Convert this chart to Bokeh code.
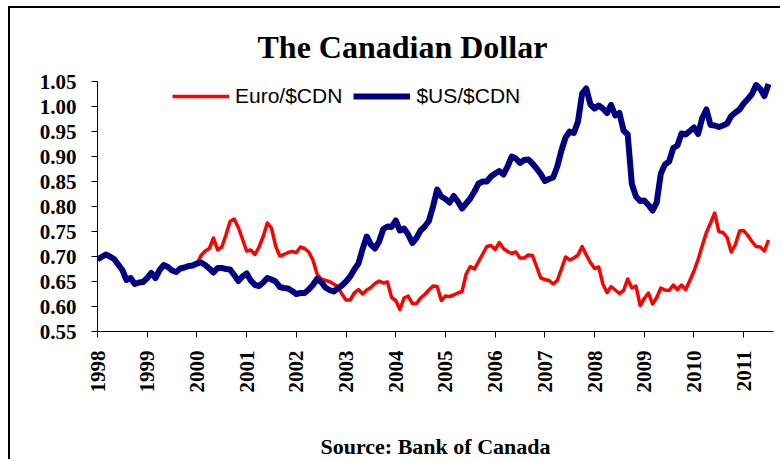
from bokeh.plotting import figure
from bokeh.models import (FixedTicker, Title, Legend, LegendItem, Range1d,
                          PrintfTickFormatter)
from bokeh.embed import file_html
from bokeh.resources import INLINE

# ---- data -------------------------------------------------------------
years = list(range(1998, 2012))
year_labels = [str(y) for y in years]
y_ticks = [0.55, 0.60, 0.65, 0.70, 0.75, 0.80, 0.85, 0.90, 0.95, 1.00, 1.05]

# $US per $CDN, monthly, Jan 1998 - Jul 2011
usd_cad = [
    0.694, 0.699, 0.704, 0.700, 0.695, 0.684, 0.673, 0.653, 0.657, 0.645, 0.648, 0.649,  # 1998
    0.657, 0.667, 0.657, 0.673, 0.683, 0.679, 0.672, 0.669, 0.676, 0.678, 0.681, 0.682,  # 1999
    0.686, 0.688, 0.683, 0.676, 0.668, 0.677, 0.677, 0.675, 0.674, 0.663, 0.651, 0.660,  # 2000
    0.666, 0.652, 0.643, 0.641, 0.648, 0.657, 0.654, 0.650, 0.639, 0.637, 0.636, 0.631,  # 2001
    0.625, 0.627, 0.627, 0.634, 0.643, 0.655, 0.649, 0.638, 0.633, 0.630, 0.636, 0.642,  # 2002
    0.650, 0.660, 0.674, 0.686, 0.715, 0.740, 0.724, 0.716, 0.730, 0.755, 0.760, 0.759,  # 2003
    0.772, 0.752, 0.756, 0.744, 0.727, 0.737, 0.752, 0.760, 0.771, 0.800, 0.834, 0.820,  # 2004
    0.815, 0.808, 0.821, 0.810, 0.796, 0.806, 0.816, 0.830, 0.846, 0.850, 0.850, 0.860,  # 2005
    0.866, 0.871, 0.864, 0.880, 0.900, 0.896, 0.887, 0.893, 0.894, 0.886, 0.876, 0.865,  # 2006
    0.851, 0.855, 0.858, 0.880, 0.912, 0.938, 0.950, 0.947, 0.970, 1.026, 1.036, 1.004,  # 2007
    0.996, 1.002, 0.996, 0.987, 1.003, 0.982, 0.987, 0.952, 0.944, 0.845, 0.820, 0.811,  # 2008
    0.812, 0.803, 0.792, 0.808, 0.866, 0.884, 0.890, 0.917, 0.922, 0.946, 0.944, 0.951,  # 2009
    0.958, 0.945, 0.977, 0.994, 0.963, 0.962, 0.959, 0.962, 0.966, 0.981, 0.988, 0.994,  # 2010
    1.006, 1.015, 1.025, 1.043, 1.035, 1.021, 1.045,                                    # 2011
]

# Euro per $CDN, monthly, Jan 2000 - Jul 2011
eur_cad = [
    0.685, 0.702, 0.711, 0.716, 0.737, 0.713, 0.719, 0.743, 0.770, 0.775, 0.758, 0.735,  # 2000
    0.711, 0.713, 0.704, 0.719, 0.740, 0.767, 0.757, 0.721, 0.701, 0.704, 0.708, 0.710,  # 2001
    0.708, 0.719, 0.716, 0.709, 0.693, 0.665, 0.655, 0.652, 0.650, 0.645, 0.640, 0.625,  # 2002
    0.613, 0.613, 0.627, 0.634, 0.625, 0.633, 0.638, 0.646, 0.651, 0.647, 0.649, 0.618,  # 2003
    0.612, 0.594, 0.617, 0.621, 0.606, 0.606, 0.617, 0.624, 0.633, 0.641, 0.640, 0.612,  # 2004
    0.621, 0.620, 0.623, 0.627, 0.630, 0.665, 0.680, 0.675, 0.690, 0.705, 0.720, 0.722,  # 2005
    0.714, 0.728, 0.716, 0.710, 0.706, 0.709, 0.697, 0.697, 0.703, 0.702, 0.680, 0.657,  # 2006
    0.654, 0.652, 0.645, 0.652, 0.675, 0.699, 0.693, 0.697, 0.703, 0.720, 0.703, 0.688,  # 2007
    0.676, 0.679, 0.645, 0.628, 0.640, 0.633, 0.626, 0.632, 0.655, 0.637, 0.641, 0.602,  # 2008
    0.616, 0.627, 0.605, 0.618, 0.637, 0.633, 0.632, 0.643, 0.634, 0.643, 0.634, 0.652,  # 2009
    0.671, 0.694, 0.722, 0.748, 0.767, 0.787, 0.750, 0.748, 0.738, 0.709, 0.724, 0.751,  # 2010
    0.752, 0.742, 0.730, 0.720, 0.719, 0.711, 0.733,                                    # 2011
]

x_usd = [years[0] + i / 12 for i in range(len(usd_cad))]
x_eur = [2000 + i / 12 for i in range(len(eur_cad))]

# ---- figure -----------------------------------------------------------
p = figure(width=772, height=453, output_backend="svg", toolbar_location=None,
           x_range=Range1d(1998, 2011.6), y_range=Range1d(0.55, 1.05),
           min_border_left=87, min_border_top=73, min_border_right=9,
           min_border_bottom=127)
p.styles = {"margin-left": "8px", "margin-top": "6px",
            "border-left": "2px solid black", "border-top": "2px solid black"}
p.outline_line_color = None
p.xgrid.visible = False
p.ygrid.visible = False
p.background_fill_color = "white"
p.border_fill_color = "white"

serif = "Liberation Serif"

for ax in (p.xaxis[0], p.yaxis[0]):
    ax.axis_line_color = "black"
    ax.axis_line_width = 1
    ax.major_tick_line_color = "black"
    ax.major_tick_out = 6
    ax.major_tick_in = 0
    ax.minor_tick_line_color = None
    ax.major_label_text_font = serif
    ax.major_label_text_font_style = "bold"
    ax.major_label_text_font_size = "21px"
    ax.major_label_text_color = "black"

p.xaxis.ticker = FixedTicker(ticks=years)
p.xaxis.major_label_overrides = {y: lab for y, lab in zip(years, year_labels)}
p.xaxis.major_label_orientation = 3.14159265 / 2
p.xaxis.major_label_standoff = 13
p.xaxis.axis_label = "Source: Bank of Canada"
p.xaxis.axis_label_text_font = serif
p.xaxis.axis_label_text_font_style = "bold"
p.xaxis.axis_label_text_font_size = "22px"
p.xaxis.axis_label_text_color = "black"
p.xaxis.axis_label_standoff = 38

p.yaxis.ticker = FixedTicker(ticks=y_ticks)
p.yaxis.formatter = PrintfTickFormatter(format="%.2f")
p.yaxis.major_label_standoff = 15

r_eur = p.line(x_eur, eur_cad, line_color="#FF0000", line_width=3.5, line_join="round")
r_usd = p.line(x_usd, usd_cad, line_color="#000080", line_width=6, line_join="round")

legend = Legend(items=[LegendItem(label="Euro/$CDN", renderers=[r_eur]),
                       LegendItem(label="$US/$CDN", renderers=[r_usd])],
                orientation="horizontal", location=(75, 223),
                glyph_width=57, label_standoff=6, spacing=11,
                padding=0, margin=0, border_line_alpha=0,
                background_fill_alpha=0,
                label_text_font="Liberation Sans", label_text_font_size="21px",
                label_text_color="black")
p.add_layout(legend)

title = Title(text="The Canadian Dollar", text_font=serif, text_font_style="bold",
              text_font_size="32px", text_color="black", align="left",
              offset=160, standoff=34)
p.add_layout(title, "above")

open("out.html", "w").write(file_html(p, INLINE))
